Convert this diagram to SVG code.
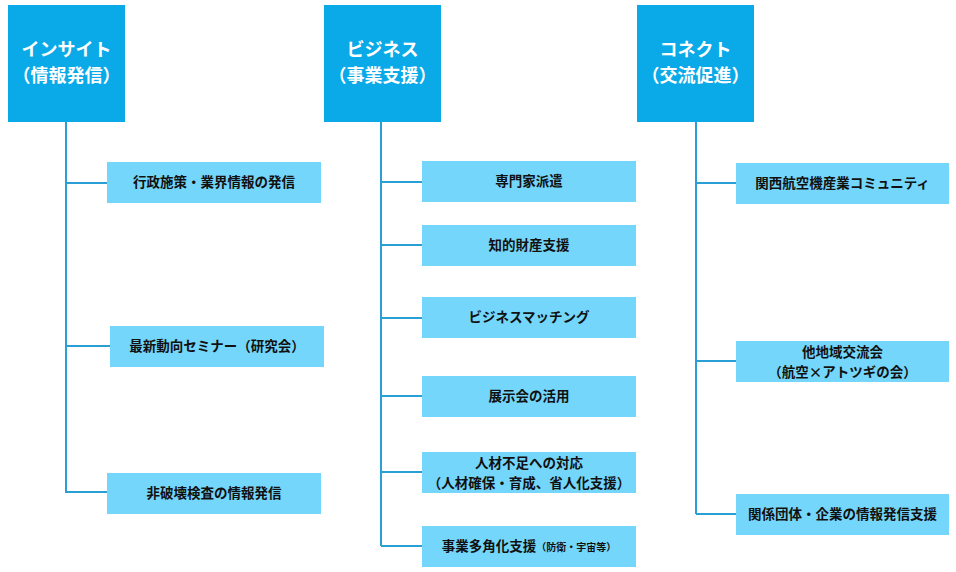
<svg xmlns="http://www.w3.org/2000/svg" width="956" height="572" viewBox="0 0 956 572">
<style>
.h{fill:#0aaae8}
.c{fill:#74d6fb}
.ht{font-family:"Noto Sans CJK JP",sans-serif;font-size:18px;font-weight:bold;fill:#fff;text-anchor:middle}
.ct{font-family:"Noto Sans CJK JP",sans-serif;font-size:13.5px;font-weight:bold;fill:#111;text-anchor:middle}
.s{font-size:10px}
#conn path{stroke:#2a9fd6;stroke-width:2;fill:none}
</style>
<rect width="956" height="572" fill="#fff"/>
<g id="conn">
<path d="M66 122V493M66 183H107M66 346H110M66 492H107"/>
<path d="M381 122V546M381 182H422M381 245H422M381 318H422M381 396H422M381 472H422M381 546H422"/>
<path d="M696 122V514M696 183H736M696 361H736M696 514H736"/>
</g>
<g id="h1"><rect class="h" x="8" y="5" width="117" height="117"/><text class="ht" x="66.5" y="56">インサイト</text><text class="ht" x="66.5" y="82">（情報発信）</text></g>
<g id="h2"><rect class="h" x="324" y="5" width="117" height="117"/><text class="ht" x="382.5" y="56">ビジネス</text><text class="ht" x="382.5" y="82">（事業支援）</text></g>
<g id="h3"><rect class="h" x="637" y="5" width="117" height="117"/><text class="ht" x="695.5" y="56">コネクト</text><text class="ht" x="695.5" y="82">（交流促進）</text></g>
<g id="l1"><rect class="c" x="107" y="162" width="214" height="41"/><text class="ct" x="214" y="187">行政施策・業界情報の発信</text></g>
<g id="l2"><rect class="c" x="110" y="326" width="214" height="41"/><text class="ct" x="217" y="351">最新動向セミナー（研究会）</text></g>
<g id="l3"><rect class="c" x="107" y="473" width="214" height="41"/><text class="ct" x="214" y="498">非破壊検査の情報発信</text></g>
<g id="m1"><rect class="c" x="422" y="161" width="214" height="41"/><text class="ct" x="529" y="186">専門家派遣</text></g>
<g id="m2"><rect class="c" x="422" y="225" width="214" height="41"/><text class="ct" x="529" y="250">知的財産支援</text></g>
<g id="m3"><rect class="c" x="422" y="297" width="214" height="41"/><text class="ct" x="529" y="322">ビジネスマッチング</text></g>
<g id="m4"><rect class="c" x="422" y="376" width="214" height="41"/><text class="ct" x="529" y="401">展示会の活用</text></g>
<g id="m5"><rect class="c" x="422" y="452" width="214" height="41"/><text class="ct" x="529" y="468">人材不足への対応</text><text class="ct" x="529" y="488">（人材確保・育成、省人化支援）</text></g>
<g id="m6"><rect class="c" x="422" y="526" width="214" height="41"/><text class="ct" x="529" y="551">事業多角化支援<tspan class="s">（防衛・宇宙等）</tspan></text></g>
<g id="r1"><rect class="c" x="736" y="163" width="213" height="41"/><text class="ct" x="842.5" y="188">関西航空機産業コミュニティ</text></g>
<g id="r2"><rect class="c" x="736" y="341" width="213" height="41"/><text class="ct" x="842.5" y="357">他地域交流会</text><text class="ct" x="842.5" y="377">（航空×アトツギの会）</text></g>
<g id="r3"><rect class="c" x="736" y="494" width="213" height="41"/><text class="ct" x="842.5" y="519">関係団体・企業の情報発信支援</text></g>
</svg>
